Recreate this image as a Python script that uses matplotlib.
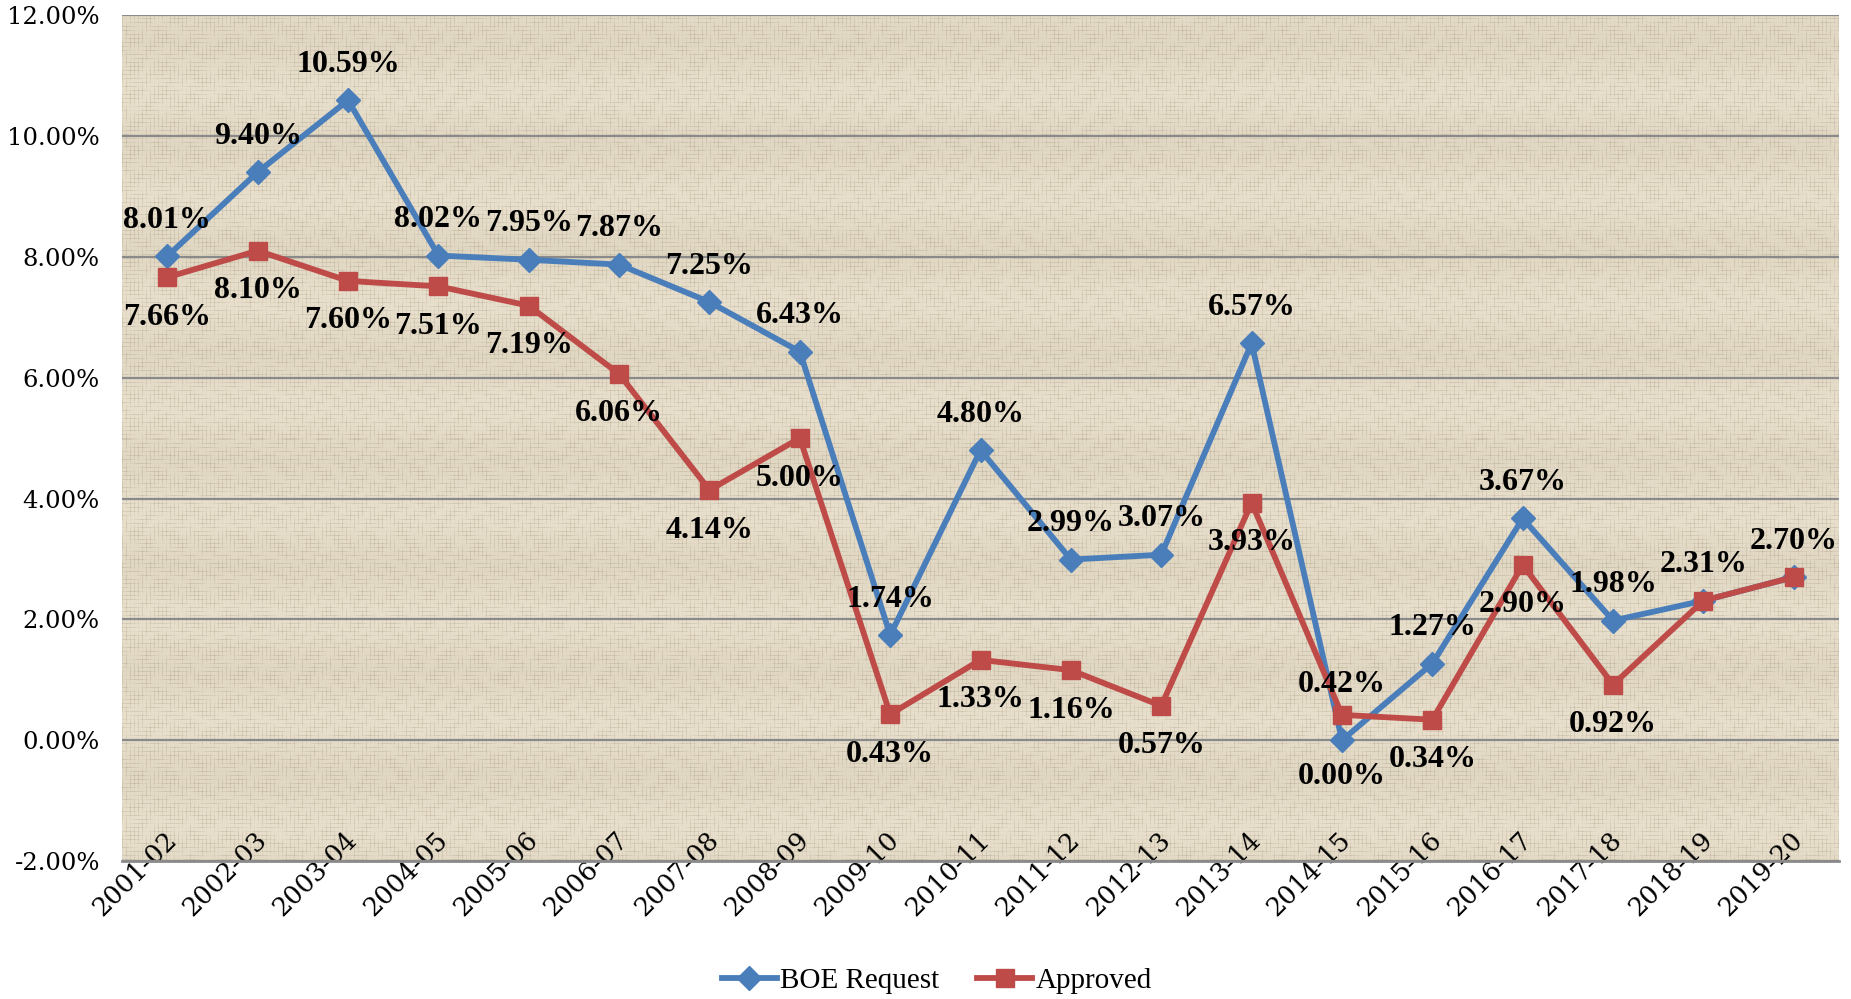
import matplotlib
matplotlib.use("Agg")
import matplotlib.pyplot as plt
from matplotlib.ticker import FuncFormatter, MultipleLocator
from matplotlib.transforms import ScaledTranslation
import numpy as np

years = ["2001-02", "2002-03", "2003-04", "2004-05", "2005-06", "2006-07",
         "2007-08", "2008-09", "2009-10", "2010-11", "2011-12", "2012-13",
         "2013-14", "2014-15", "2015-16", "2016-17", "2017-18", "2018-19",
         "2019-20"]
boe_request = [8.01, 9.40, 10.59, 8.02, 7.95, 7.87, 7.25, 6.43, 1.74, 4.80,
               2.99, 3.07, 6.57, 0.00, 1.27, 3.67, 1.98, 2.31, 2.70]
approved = [7.66, 8.10, 7.60, 7.51, 7.19, 6.06, 4.14, 5.00, 0.43, 1.33,
            1.16, 0.57, 3.93, 0.42, 0.34, 2.90, 0.92, 2.31, 2.70]

BLUE = "#4a7ebb"
RED = "#be4b48"
SERIF = ["Liberation Serif", "DejaVu Serif"]
TICKFONT = ["DejaVu Serif"]

fig = plt.figure(figsize=(18.51, 9.99), dpi=100)
ax = fig.add_axes([0.066, 0.138, 0.9275, 0.847])

x = np.arange(len(years))
ax.set_xlim(-0.5, len(years) - 0.5)
ax.set_ylim(-2, 12)

# woven linen texture behind the plot area, one cell per pixel
h, w = 846, 1717
yy, xx = np.mgrid[0:h, 0:w]
col_phase = np.sin((xx // 4) ** 2 * 0.731) * 6
row_phase = np.sin((yy // 4) ** 2 * 0.577) * 6
warp = ((xx % 4) == 0) * (0.55 + 0.45 * np.sin(yy * 0.23 + col_phase))
weft = ((yy % 4) == 0) * (0.55 + 0.45 * np.sin(xx * 0.19 + row_phase))
bands = 0.5 + 0.5 * np.sin(yy * 0.06)
shade = np.clip(0.30 * warp + 0.30 * weft + 0.10 * bands, 0, 1)
base = np.array([232, 223, 204]) / 255.0
dark = np.array([170, 158, 132]) / 255.0
tex = base[None, None, :] * (1 - shade[..., None]) + dark[None, None, :] * shade[..., None]
ax.imshow(tex, extent=[-0.5, len(years) - 0.5, -2, 12], aspect="auto",
          interpolation="nearest", zorder=0)

ax.yaxis.set_major_locator(MultipleLocator(2))
ax.yaxis.set_major_formatter(FuncFormatter(lambda v, p: f"{v:.2f}%"))
ax.grid(axis="y", color="#8a8a8a", linewidth=1.6, zorder=1)
for s in ["left", "right", "top"]:
    ax.spines[s].set_visible(False)
ax.spines["bottom"].set_color("#8a8a8a")
ax.spines["bottom"].set_linewidth(2)
ax.tick_params(axis="both", length=0)
ax.tick_params(axis="y", pad=16)
ax.tick_params(axis="x", pad=0)
for lab in ax.get_yticklabels():
    lab.set_fontfamily(TICKFONT)
    lab.set_fontsize(17.5)

ax.set_xticks(x)
ax.set_xticklabels(years, rotation=45, ha="right", va="center",
                   rotation_mode="anchor", family=TICKFONT, fontsize=18.5)
for lab in ax.get_xticklabels():
    lab.set_transform(lab.get_transform() + ScaledTranslation(0.05, 0.25, fig.dpi_scale_trans))

ax.plot(x, boe_request, color=BLUE, linewidth=4.2, marker="D", markersize=12,
        label="BOE Request", zorder=3)
ax.plot(x, approved, color=RED, linewidth=4.2, marker="s", markersize=13,
        label="Approved", zorder=4)

lbl = dict(fontsize=23, fontweight="bold", family=SERIF, ha="center",
           va="center", zorder=5, color="black")
for i, v in enumerate(boe_request):
    dy = -36 if years[i] == "2014-15" else 36
    ax.annotate(f"{v:.2f}%", (x[i], v), xytext=(0, dy),
                textcoords="offset pixels", **lbl)
for i, v in enumerate(approved[:17]):
    dy = 30 if years[i] == "2014-15" else -40
    ax.annotate(f"{v:.2f}%", (x[i], v), xytext=(0, dy),
                textcoords="offset pixels", **lbl)

leg = fig.legend(loc="center", bbox_to_anchor=(0.506, 0.018), ncol=2,
                 frameon=False, prop={"family": SERIF, "size": 21},
                 handlelength=1.9, columnspacing=1.3, handletextpad=0.1)

fig.savefig("out.png", dpi=100)
